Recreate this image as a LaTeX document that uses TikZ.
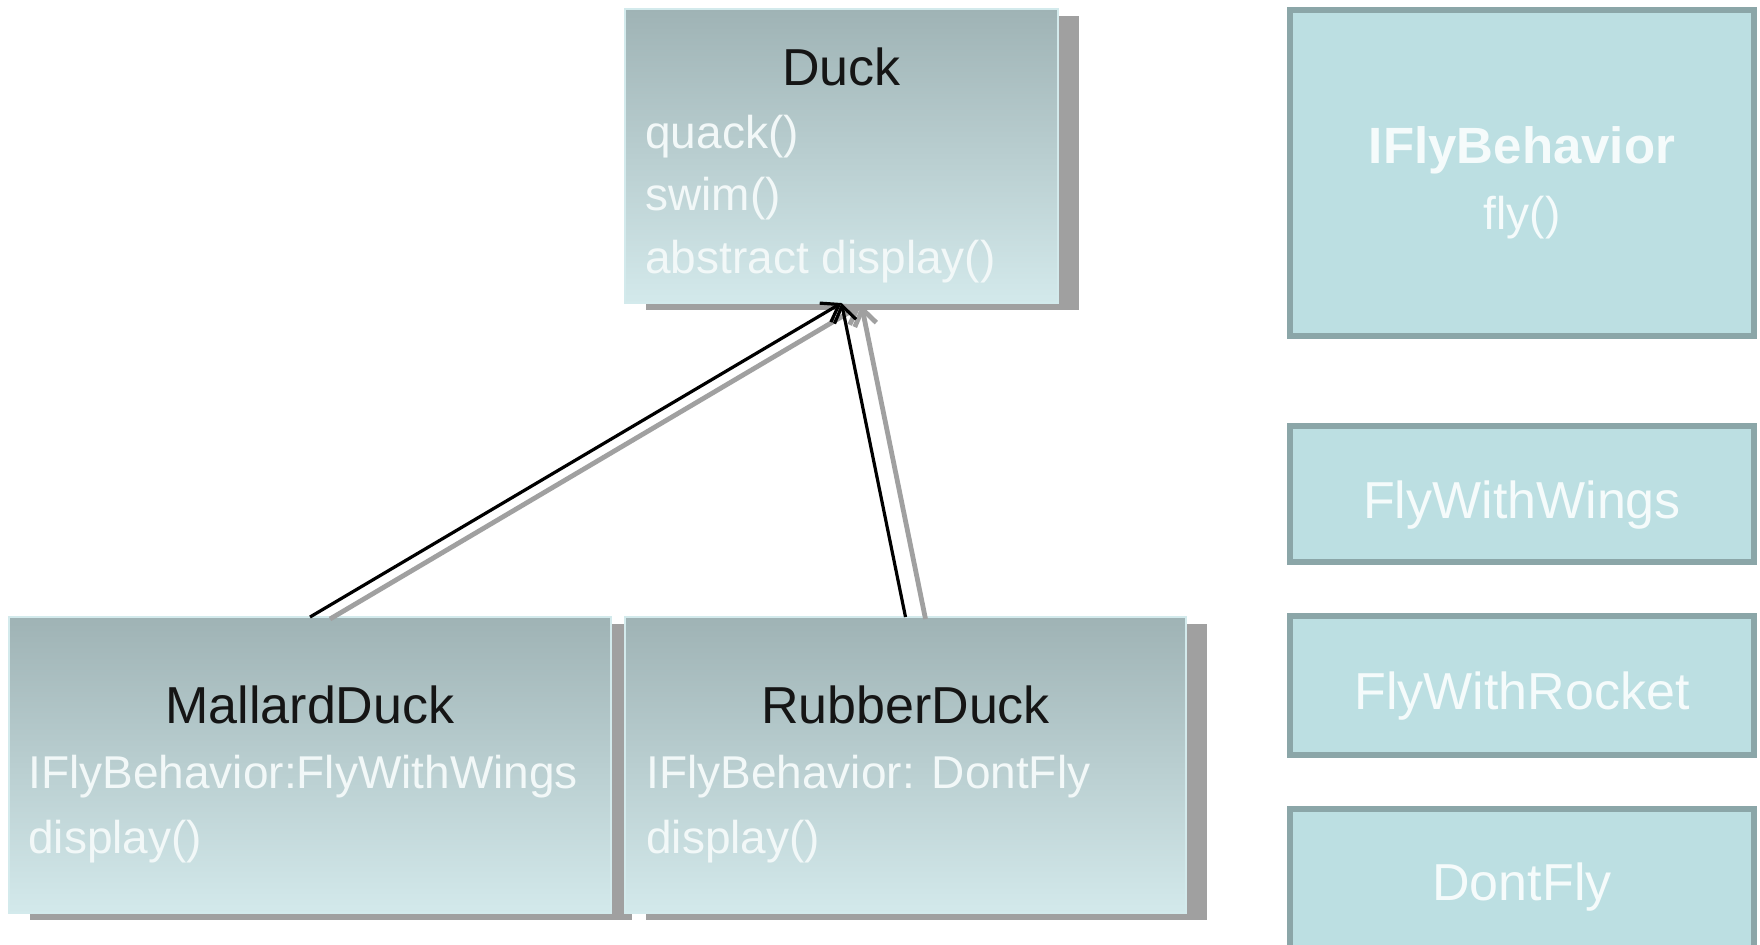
\documentclass[tikz,border=0pt]{standalone}
\usepackage{fontspec}
\setmainfont{Liberation Sans}
\usetikzlibrary{shadows,arrows.meta}
\definecolor{clstop}{HTML}{9FB3B5}
\definecolor{clsbot}{HTML}{D3E9EB}
\definecolor{clsedge}{HTML}{D3EAEC}
\definecolor{shadowgray}{HTML}{A0A0A0}
\definecolor{behfill}{HTML}{BCDFE2}
\definecolor{behedge}{HTML}{8BA6A8}
\definecolor{bodytext}{HTML}{F2F8F8}
\definecolor{behtext}{HTML}{F5FBFB}
\definecolor{titletext}{HTML}{151515}
\tikzset{
  cls/.style={rectangle, inner sep=0pt, outer sep=0pt, top color=clstop, bottom color=clsbot,
    draw=clsedge, line width=1pt,
    general shadow={fill=shadowgray, shadow xshift=10.5pt, shadow yshift=-3.5pt}},
  beh/.style={rectangle, inner sep=0pt, outer sep=0pt, fill=behfill, draw=behedge, line width=3pt},
  ctitle/.style={anchor=base, inner sep=0pt, text=titletext, font=\fontsize{26}{30}\selectfont},
  cbody/.style={anchor=base west, inner sep=0pt, text=bodytext, font=\fontsize{23}{27}\selectfont},
  btitle/.style={anchor=base, inner sep=0pt, text=behtext, font=\fontsize{26}{30}\selectfont},
  bbold/.style={anchor=base, inner sep=0pt, text=behtext, font=\bfseries\fontsize{25.5}{30}\selectfont},
  bbody/.style={anchor=base, inner sep=0pt, text=behtext, font=\fontsize{23}{27}\selectfont},
  inh/.style={line width=1.6pt, draw=black, -{Straight Barb[length=8pt,width=11pt]}},
  inhshadow/.style={line width=2.4pt, draw=shadowgray, -{Straight Barb[length=8pt,width=11pt]}}
}
\begin{document}
\begin{tikzpicture}[x=0.5pt,y=-0.5pt]
\useasboundingbox (0,0) rectangle (1760,944);
\clip (0,0) rectangle (1760,944);
\fill[white] (0,0) rectangle (1760,944);
% class boxes
\node[cls, minimum width=216.5pt, minimum height=147pt] (duck) at (841.5,156) {};
\node[cls, minimum width=301pt, minimum height=148pt] (mallard) at (310,765) {};
\node[cls, minimum width=280.5pt, minimum height=148pt] (rubber) at (905.5,765) {};
% duck texts
\node[ctitle] (duckt) at (841.5,85) {Duck};
\node[cbody] (duck1) at (645,148) {quack()};
\node[cbody] (duck2) at (645,210) {swim()};
\node[cbody] (duck3) at (645,273) {abstract display()};
% mallard texts
\node[ctitle] (mallardt) at (310,723) {MallardDuck};
\node[cbody] (mallard1) at (28,788) {IFlyBehavior:FlyWithWings};
\node[cbody] (mallard2) at (28,853) {display()};
% rubber texts
\node[ctitle] (rubbert) at (905.5,723) {RubberDuck};
\node[cbody] (rubber1) at (646,788) {IFlyBehavior: DontFly};
\node[cbody] (rubber2) at (646,853) {display()};
% behaviour boxes
\node[beh, minimum width=232pt, minimum height=163pt] (ifly) at (1522,173) {};
\node[beh, minimum width=232pt, minimum height=68pt] (fww) at (1522,494) {};
\node[beh, minimum width=232pt, minimum height=69.5pt] (fwr) at (1522,685.5) {};
\node[beh, minimum width=232pt, minimum height=80pt] (dfly) at (1522,889) {};
\node[bbold] (iflyt) at (1522,163) {IFlyBehavior};
\node[bbody] (iflyb) at (1522,229) {fly()};
\node[btitle] (fwwt) at (1522,518) {FlyWithWings};
\node[btitle] (fwrt) at (1522,709) {FlyWithRocket};
\node[btitle] (dflyt) at (1522,900) {DontFly};
% inheritance arrows with shadows
\draw[inhshadow] ([shift={(10pt,-1pt)}]mallard.north) -- ([shift={(10pt,-1pt)}]duck.south);
\draw[inhshadow] ([shift={(10pt,-1pt)}]rubber.north) -- ([shift={(10pt,-1pt)}]duck.south);
\draw[inh] (mallard.north) -- (duck.south);
\draw[inh] (rubber.north) -- (duck.south);
\end{tikzpicture}
\end{document}
